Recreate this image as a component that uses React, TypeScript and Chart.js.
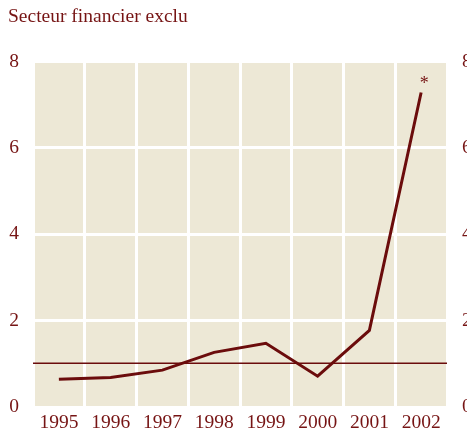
import React, { useEffect, useRef } from "react";
import { Chart, registerables } from "chart.js";

Chart.register(...registerables);

const TITLE = "Secteur financier exclu";
const YEARS = ["1995", "1996", "1997", "1998", "1999", "2000", "2001", "2002"];
const VALUES = [0.65, 0.69, 0.86, 1.27, 1.48, 0.72, 1.78, 7.28];
const REF_VALUE = 1.02;
const Y_TICKS = [0, 2, 4, 6, 8];
const MARKER = "*";

const TEXT = "#761414";
const LINE = "#6b0c0c";
const BG = "#ede8d6";
const FONT = "'Liberation Serif', serif";

const decorPlugin = {
  id: "decor",
  beforeDraw(chart: any) {
    const { ctx, chartArea: a } = chart;
    ctx.save();
    ctx.fillStyle = BG;
    ctx.fillRect(a.left, a.top, a.right - a.left, a.bottom - a.top);
    ctx.restore();
  },
  afterDatasetsDraw(chart: any) {
    const { ctx, chartArea: a, scales } = chart;
    const y = scales.y.getPixelForValue(REF_VALUE);
    ctx.save();
    ctx.strokeStyle = LINE;
    ctx.lineWidth = 1.5;
    ctx.beginPath();
    ctx.moveTo(a.left, y);
    ctx.lineTo(a.right, y);
    ctx.stroke();
    const meta = chart.getDatasetMeta(0);
    const last = meta.data[meta.data.length - 1];
    ctx.fillStyle = TEXT;
    ctx.font = "18px " + FONT;
    ctx.textAlign = "center";
    ctx.textBaseline = "middle";
    ctx.fillText(MARKER, last.x + 3, last.y - 8);
    ctx.restore();
  },
};

export default function App() {
  const ref = useRef<HTMLCanvasElement>(null);
  useEffect(() => {
    const chart = new Chart(ref.current!, {
      type: "line",
      data: {
        labels: YEARS,
        datasets: [
          {
            data: VALUES,
            borderColor: LINE,
            borderWidth: 3,
            pointRadius: 0,
            tension: 0,
            fill: false,
          },
        ],
      },
      plugins: [decorPlugin],
      options: {
        animation: false,
        responsive: false,
        devicePixelRatio: 1,
        layout: { padding: { left: 8, right: 0, top: 0, bottom: 0 } },
        plugins: {
          legend: { display: false },
          tooltip: { enabled: false },
          title: {
            display: true,
            text: TITLE,
            align: "start",
            color: TEXT,
            font: { family: FONT, size: 19.5, weight: "normal" },
            padding: { top: 5, bottom: 33 },
          },
        },
        scales: {
          x: {
            offset: true,
            afterFit: (s: any) => {
              s.height = 26;
            },
            grid: { color: "#ffffff", lineWidth: 3, offset: true, drawTicks: false },
            border: { display: false },
            ticks: { color: TEXT, font: { family: FONT, size: 19.5 }, padding: 4, maxRotation: 0 },
          },
          y: {
            min: 0,
            max: 8,
            afterBuildTicks: (s: any) => {
              s.ticks = Y_TICKS.map((v) => ({ value: v }));
            },
            afterFit: (s: any) => {
              s.width = 25;
            },
            grid: { color: "#ffffff", lineWidth: 3, drawTicks: false },
            border: { display: false },
            ticks: { color: TEXT, font: { family: FONT, size: 19.5 }, padding: 14 },
          },
          y2: {
            position: "right",
            min: 0,
            max: 8,
            afterBuildTicks: (s: any) => {
              s.ticks = Y_TICKS.map((v) => ({ value: v }));
            },
            afterFit: (s: any) => {
              s.width = 20;
            },
            grid: { display: false, drawTicks: false },
            border: { display: false },
            ticks: { color: TEXT, font: { family: FONT, size: 19.5 }, padding: 15 },
          },
        },
      },
    });
    return () => chart.destroy();
  }, []);
  return (
    <div style={{ position: "absolute", left: 0, top: 0, width: 467, height: 434, overflow: "hidden" }}>
      <canvas ref={ref} width={467} height={434} style={{ display: "block" }} />
    </div>
  );
}
